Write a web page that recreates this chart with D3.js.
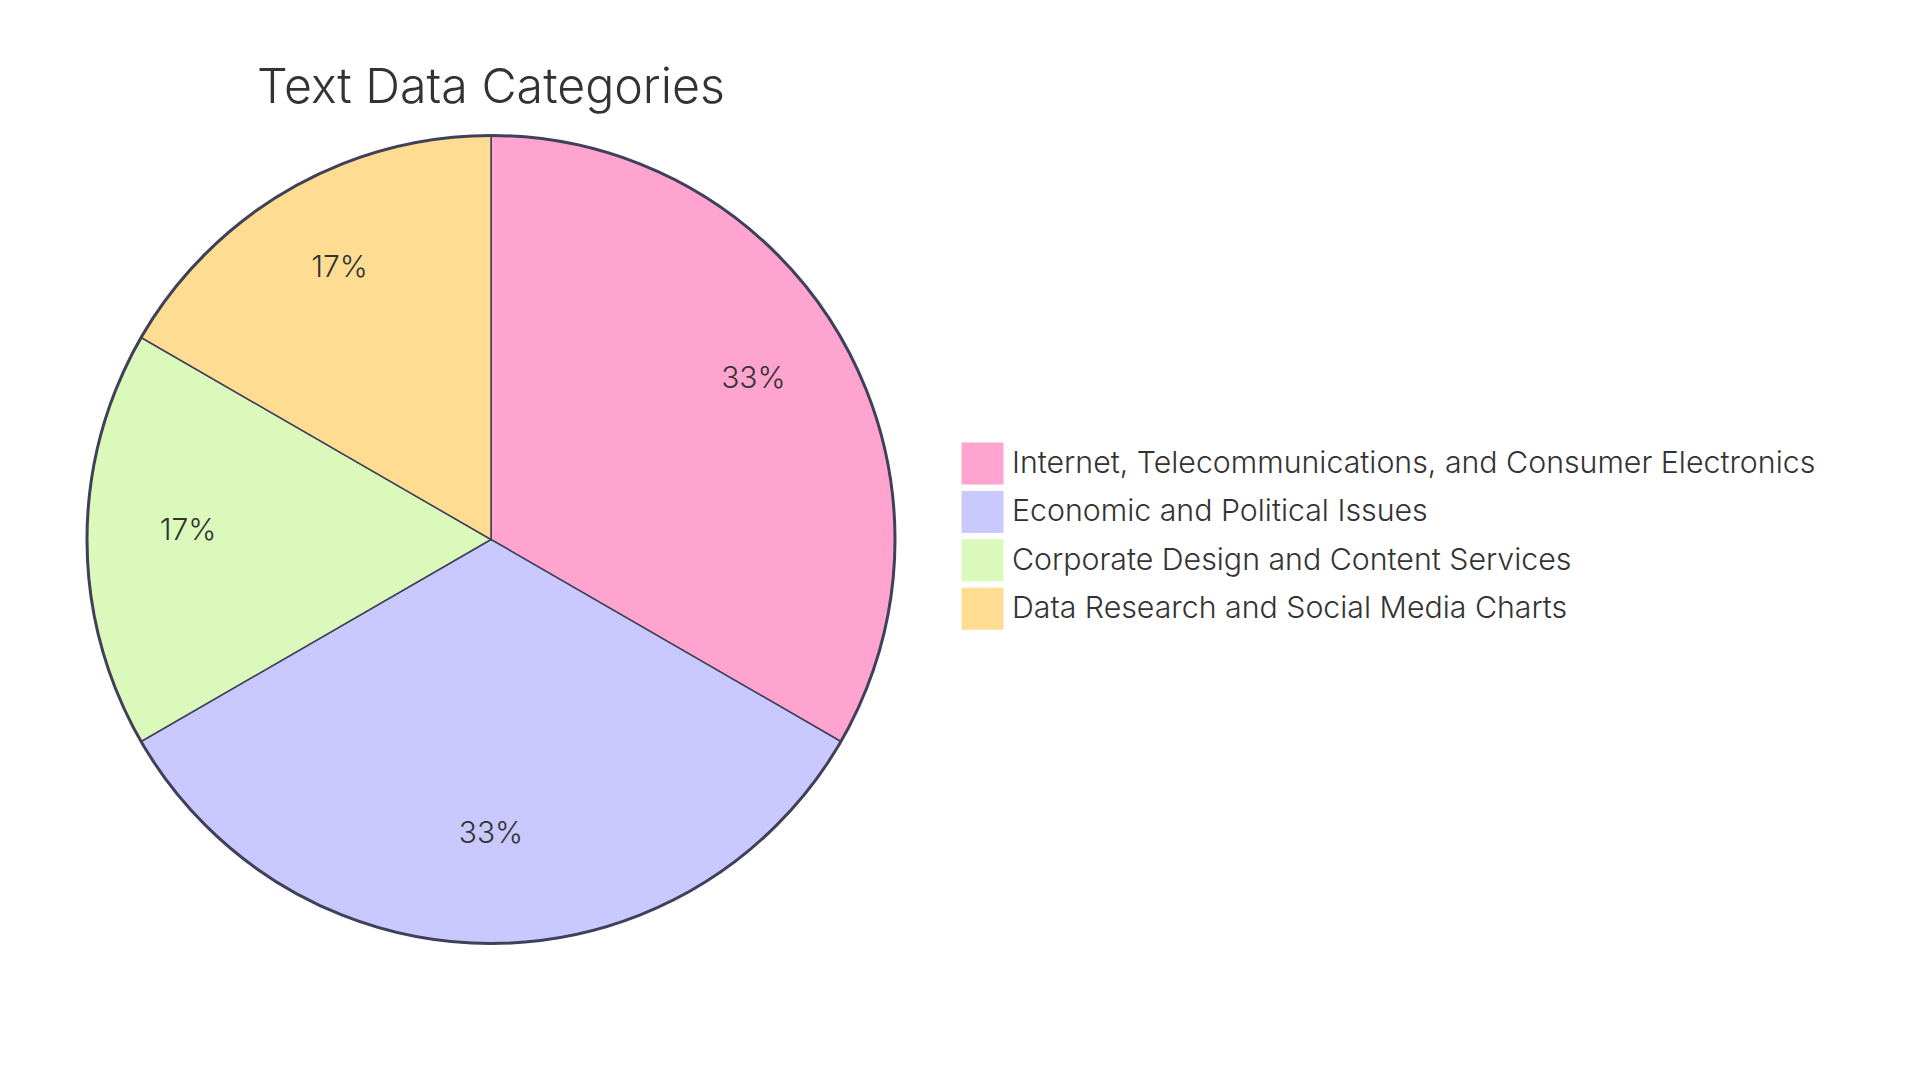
<!DOCTYPE html>
<html>
<head>
<meta charset="utf-8">
<script src="https://cdn.jsdelivr.net/npm/d3@7"></script>
<style>
  html, body { margin: 0; padding: 0; background: #ffffff; }
  svg { display: block; }
  text { font-family: Inter, "Noto Sans", sans-serif; fill: #333333; }
</style>
</head>
<body>
<svg id="chart" width="1920" height="1080"></svg>
<script>
const title = "Text Data Categories";
const categories = [
  "Internet, Telecommunications, and Consumer Electronics",
  "Economic and Political Issues",
  "Corporate Design and Content Services",
  "Data Research and Social Media Charts"
];
const values = [2, 2, 1, 1];
const colors = ["#FFA3CF", "#C9C9FF", "#DAF9BA", "#FEDD93"];

const svg = d3.select("#chart");
const cx = 491, cy = 539.5, radius = 404;

const data = categories.map((c, i) => ({ label: c, value: values[i], color: colors[i] }));
const total = d3.sum(values);

const pie = d3.pie().value(d => d.value).sort(null);
const arcs = pie(data);
const arc = d3.arc().innerRadius(0).outerRadius(radius);
const labelArc = d3.arc().innerRadius(radius * 0.75).outerRadius(radius * 0.75);

const g = svg.append("g").attr("transform", `translate(${cx},${cy})`);

g.selectAll("path.slice")
  .data(arcs)
  .join("path")
  .attr("class", "slice")
  .attr("d", arc)
  .attr("fill", d => d.data.color)
  .attr("stroke", "#40405a")
  .attr("stroke-width", 1.5);

g.append("circle")
  .attr("r", radius)
  .attr("fill", "none")
  .attr("stroke", "#40405a")
  .attr("stroke-width", 3);

g.selectAll("text.pct")
  .data(arcs)
  .join("text")
  .attr("class", "pct")
  .attr("transform", d => { const c = labelArc.centroid(d); return `translate(${c[0]},${c[1]})`; })
  .attr("text-anchor", "middle")
  .style("font-size", "30px")
  .style("font-weight", 300)
  .text(d => ((d.data.value / total) * 100).toFixed(0) + "%");

svg.append("text")
  .attr("x", cx)
  .attr("y", 103)
  .attr("text-anchor", "middle")
  .style("font-size", "48.3px")
  .style("font-weight", 300)
  .text(title);

const legendX = 962, legendY = 443, rowH = 48.4, sq = 41;
const legend = svg.selectAll("g.legend")
  .data(data)
  .join("g")
  .attr("class", "legend")
  .attr("transform", (d, i) => `translate(${legendX},${legendY + i * rowH})`);

legend.append("rect")
  .attr("width", sq)
  .attr("height", sq)
  .attr("fill", d => d.color)
  .attr("stroke", d => d.color);

legend.append("text")
  .attr("x", 50)
  .attr("y", 30)
  .style("font-size", "30.3px")
  .style("font-weight", 300)
  .text(d => d.label);
</script>
</body>
</html>
